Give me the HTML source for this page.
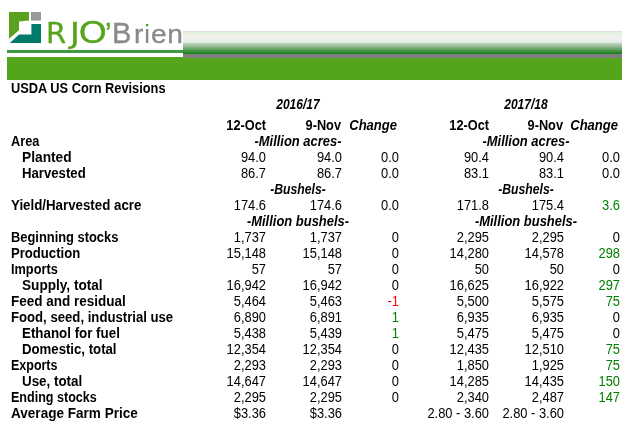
<!DOCTYPE html>
<html><head><meta charset="utf-8"><title>USDA US Corn Revisions</title>
<style>
html,body{margin:0;padding:0;background:#fff;}
body{width:630px;height:430px;position:relative;overflow:hidden;font-family:"Liberation Sans",Arial,sans-serif;font-size:14px;color:#000;}
.t{position:absolute;height:16px;line-height:16px;white-space:nowrap;}
.b{font-weight:bold;transform:scaleX(0.922);transform-origin:0 50%;}
.bi{font-weight:bold;font-style:italic;transform:scaleX(0.925);transform-origin:50% 50%;}
.c{width:200px;text-align:center;}
.n{width:100px;text-align:right;transform:scaleX(0.92);transform-origin:100% 50%;}
.h{transform:scaleX(0.91);transform-origin:100% 50%;}
.ch{transform:scaleX(0.93);transform-origin:100% 50%;}
.bu{transform:scaleX(0.87);}
.g{color:#008000;}
.r{color:#ff0000;}
.yr{transform:scaleX(0.86);}
#logo{position:absolute;left:0;top:0;}
#grad{position:absolute;left:183px;top:31px;width:439px;height:23px;background:linear-gradient(to bottom,#dfe3d6 0.5px,#e2f0e0 1.5px,#e2f0e0 2.5px,#f0f0e0 3.5px,#f0f0e2 4.5px,#f0f0f0 5.5px,#f0f0f0 6.5px,#f0f0f0 7.5px,#f0f0f0 8.5px,#efefef 9.5px,#e2f0e2 10.5px,#dcebdc 11.5px,#b8d4b8 12.5px,#a8cca8 13.5px,#a8baa8 14.5px,#98b898 15.5px,#80b080 16.5px,#70a870 17.5px,#60a060 18.5px,#489848 19.5px,#389038 20.5px,#2c882c 21.5px,#208020 22.5px);}
#gray{position:absolute;left:183px;top:54px;width:439px;height:3.7px;background:#808080;z-index:2;}
#line{position:absolute;left:7px;top:50px;width:176px;height:3px;background:#3f9a3f;}
#bar{position:absolute;left:7px;top:57px;width:615px;height:23px;background:#55a51c;}
.lg{position:absolute;white-space:nowrap;font-family:"Liberation Sans",sans-serif;font-size:29px;line-height:30px;}
.l{position:absolute;display:block;transform-origin:0 0;-webkit-text-stroke:0.35px currentColor;}
.rien{display:inline-block;font-size:25.5px;letter-spacing:0.6px;transform:scaleX(1.1);transform-origin:0 100%;margin-left:2.2px;}
.idot{-webkit-text-stroke:0;background:linear-gradient(to bottom,#55a51c 0,#55a51c 8px,#8a8a8a 8px);-webkit-background-clip:text;background-clip:text;color:transparent;}
</style></head><body>
<svg id="logo" width="60" height="50" viewBox="0 0 60 50">
<polygon points="9,12 29,12 29,20.5 19,21.5 19,30.3 9,38.8" fill="#5aa21e"/>
<rect x="31" y="12" width="10" height="8.6" fill="#9a9a9a"/>
<polygon points="31.4,24 41,24 41,43 9.8,43 19,34.5 31.4,34.5" fill="#007a6b"/>
</svg>
<div class="lg" style="left:0;top:0;width:190px;height:50px"><span class="l" style="left:46px;top:18px;color:#55a51c;font-family:'DejaVu Sans',sans-serif">R</span><span class="l" style="left:70px;top:18px;color:#55a51c;font-family:'DejaVu Sans',sans-serif;transform:scale(1.15,0.95);top:19px">J</span><span class="l" style="left:78.6px;top:16px;color:#55a51c;transform:scale(1.225,1.08)">O</span><span class="l" style="left:105px;top:18px;color:#55a51c">’</span><span class="l" style="left:112px;top:18px;color:#8a8a8a">B<span class="rien">r<span class="idot">i</span>en</span></span></div>
<div id="grad"></div><div id="gray"></div><div id="line"></div><div id="bar"></div>
<div class="t b" style="left:10.5px;top:80px;transform:scaleX(0.914)">USDA US Corn Revisions</div>
<div class="t bi c yr" style="left:197.5px;top:96px">2016/17</div>
<div class="t bi c yr" style="left:426px;top:96px">2017/18</div>
<div class="t b n h" style="left:166px;top:117px">12-Oct</div>
<div class="t b n h" style="left:241.0px;top:117px">9-Nov</div>
<div class="t bi n ch" style="left:297.0px;top:117px">Change</div>
<div class="t b n h" style="left:389px;top:117px">12-Oct</div>
<div class="t b n h" style="left:463.0px;top:117px">9-Nov</div>
<div class="t bi n ch" style="left:518.0px;top:117px">Change</div>
<div class="t b" style="left:10.5px;top:133px;transform:scaleX(0.912)">Area</div>
<div class="t bi c" style="left:197.5px;top:133px">-Million acres-</div>
<div class="t bi c" style="left:426px;top:133px">-Million acres-</div>
<div class="t b" style="left:21.5px;top:149px;transform:scaleX(0.982)">Planted</div>
<div class="t n" style="left:166px;top:149px">94.0</div>
<div class="t n" style="left:241.5px;top:149px">94.0</div>
<div class="t n" style="left:298.5px;top:149px">0.0</div>
<div class="t n" style="left:389px;top:149px">90.4</div>
<div class="t n" style="left:463.5px;top:149px">90.4</div>
<div class="t n" style="left:519.5px;top:149px">0.0</div>
<div class="t b" style="left:21.5px;top:165px;transform:scaleX(0.941)">Harvested</div>
<div class="t n" style="left:166px;top:165px">86.7</div>
<div class="t n" style="left:241.5px;top:165px">86.7</div>
<div class="t n" style="left:298.5px;top:165px">0.0</div>
<div class="t n" style="left:389px;top:165px">83.1</div>
<div class="t n" style="left:463.5px;top:165px">83.1</div>
<div class="t n" style="left:519.5px;top:165px">0.0</div>
<div class="t bi c bu" style="left:197.5px;top:181px">-Bushels-</div>
<div class="t bi c bu" style="left:426px;top:181px">-Bushels-</div>
<div class="t b" style="left:10.5px;top:197px;transform:scaleX(0.95)">Yield/Harvested acre</div>
<div class="t n" style="left:166px;top:197px">174.6</div>
<div class="t n" style="left:241.5px;top:197px">174.6</div>
<div class="t n" style="left:298.5px;top:197px">0.0</div>
<div class="t n" style="left:389px;top:197px">171.8</div>
<div class="t n" style="left:463.5px;top:197px">175.4</div>
<div class="t n g" style="left:519.5px;top:197px">3.6</div>
<div class="t bi c" style="left:197.5px;top:213px">-Million bushels-</div>
<div class="t bi c" style="left:426px;top:213px">-Million bushels-</div>
<div class="t b" style="left:10.5px;top:229px;transform:scaleX(0.92)">Beginning stocks</div>
<div class="t n" style="left:166px;top:229px">1,737</div>
<div class="t n" style="left:241.5px;top:229px">1,737</div>
<div class="t n" style="left:298.5px;top:229px">0</div>
<div class="t n" style="left:389px;top:229px">2,295</div>
<div class="t n" style="left:463.5px;top:229px">2,295</div>
<div class="t n" style="left:519.5px;top:229px">0</div>
<div class="t b" style="left:10.5px;top:245px;transform:scaleX(0.936)">Production</div>
<div class="t n" style="left:166px;top:245px">15,148</div>
<div class="t n" style="left:241.5px;top:245px">15,148</div>
<div class="t n" style="left:298.5px;top:245px">0</div>
<div class="t n" style="left:389px;top:245px">14,280</div>
<div class="t n" style="left:463.5px;top:245px">14,578</div>
<div class="t n g" style="left:519.5px;top:245px">298</div>
<div class="t b" style="left:10.5px;top:261px;transform:scaleX(0.91)">Imports</div>
<div class="t n" style="left:166px;top:261px">57</div>
<div class="t n" style="left:241.5px;top:261px">57</div>
<div class="t n" style="left:298.5px;top:261px">0</div>
<div class="t n" style="left:389px;top:261px">50</div>
<div class="t n" style="left:463.5px;top:261px">50</div>
<div class="t n" style="left:519.5px;top:261px">0</div>
<div class="t b" style="left:21.5px;top:277px;transform:scaleX(0.972)">Supply, total</div>
<div class="t n" style="left:166px;top:277px">16,942</div>
<div class="t n" style="left:241.5px;top:277px">16,942</div>
<div class="t n" style="left:298.5px;top:277px">0</div>
<div class="t n" style="left:389px;top:277px">16,625</div>
<div class="t n" style="left:463.5px;top:277px">16,922</div>
<div class="t n g" style="left:519.5px;top:277px">297</div>
<div class="t b" style="left:10.5px;top:293px;transform:scaleX(0.963)">Feed and residual</div>
<div class="t n" style="left:166px;top:293px">5,464</div>
<div class="t n" style="left:241.5px;top:293px">5,463</div>
<div class="t n r" style="left:298.5px;top:293px">-1</div>
<div class="t n" style="left:389px;top:293px">5,500</div>
<div class="t n" style="left:463.5px;top:293px">5,575</div>
<div class="t n g" style="left:519.5px;top:293px">75</div>
<div class="t b" style="left:10.5px;top:309px;transform:scaleX(0.939)">Food, seed, industrial use</div>
<div class="t n" style="left:166px;top:309px">6,890</div>
<div class="t n" style="left:241.5px;top:309px">6,891</div>
<div class="t n g" style="left:298.5px;top:309px">1</div>
<div class="t n" style="left:389px;top:309px">6,935</div>
<div class="t n" style="left:463.5px;top:309px">6,935</div>
<div class="t n" style="left:519.5px;top:309px">0</div>
<div class="t b" style="left:21.5px;top:325px;transform:scaleX(0.953)">Ethanol for fuel</div>
<div class="t n" style="left:166px;top:325px">5,438</div>
<div class="t n" style="left:241.5px;top:325px">5,439</div>
<div class="t n g" style="left:298.5px;top:325px">1</div>
<div class="t n" style="left:389px;top:325px">5,475</div>
<div class="t n" style="left:463.5px;top:325px">5,475</div>
<div class="t n" style="left:519.5px;top:325px">0</div>
<div class="t b" style="left:21.5px;top:341px;transform:scaleX(0.942)">Domestic, total</div>
<div class="t n" style="left:166px;top:341px">12,354</div>
<div class="t n" style="left:241.5px;top:341px">12,354</div>
<div class="t n" style="left:298.5px;top:341px">0</div>
<div class="t n" style="left:389px;top:341px">12,435</div>
<div class="t n" style="left:463.5px;top:341px">12,510</div>
<div class="t n g" style="left:519.5px;top:341px">75</div>
<div class="t b" style="left:10.5px;top:357px;transform:scaleX(0.891)">Exports</div>
<div class="t n" style="left:166px;top:357px">2,293</div>
<div class="t n" style="left:241.5px;top:357px">2,293</div>
<div class="t n" style="left:298.5px;top:357px">0</div>
<div class="t n" style="left:389px;top:357px">1,850</div>
<div class="t n" style="left:463.5px;top:357px">1,925</div>
<div class="t n g" style="left:519.5px;top:357px">75</div>
<div class="t b" style="left:21.5px;top:373px;transform:scaleX(0.956)">Use, total</div>
<div class="t n" style="left:166px;top:373px">14,647</div>
<div class="t n" style="left:241.5px;top:373px">14,647</div>
<div class="t n" style="left:298.5px;top:373px">0</div>
<div class="t n" style="left:389px;top:373px">14,285</div>
<div class="t n" style="left:463.5px;top:373px">14,435</div>
<div class="t n g" style="left:519.5px;top:373px">150</div>
<div class="t b" style="left:10.5px;top:389px;transform:scaleX(0.896)">Ending stocks</div>
<div class="t n" style="left:166px;top:389px">2,295</div>
<div class="t n" style="left:241.5px;top:389px">2,295</div>
<div class="t n" style="left:298.5px;top:389px">0</div>
<div class="t n" style="left:389px;top:389px">2,340</div>
<div class="t n" style="left:463.5px;top:389px">2,487</div>
<div class="t n g" style="left:519.5px;top:389px">147</div>
<div class="t b" style="left:10.5px;top:405px;transform:scaleX(0.968)">Average Farm Price</div>
<div class="t n" style="left:166px;top:405px">$3.36</div>
<div class="t n" style="left:241.5px;top:405px">$3.36</div>
<div class="t n" style="left:389px;top:405px">2.80 - 3.60</div>
<div class="t n" style="left:463.5px;top:405px">2.80 - 3.60</div>
</body></html>
